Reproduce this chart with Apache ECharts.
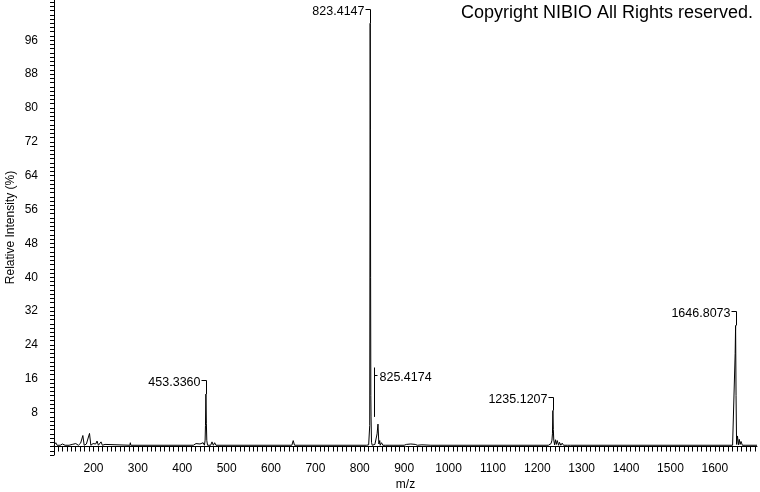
<!DOCTYPE html>
<html><head><meta charset="utf-8">
<script src="https://cdn.jsdelivr.net/npm/echarts@6/dist/echarts.min.js"></script>
<style>html,body{margin:0;padding:0;background:#fff}#c{width:760px;height:492px}</style>
</head><body><div id="c"></div>
<script>
// Spectrum profile (m/z, relative intensity %)
const spectrumMz = [
  111, 115, 118, 121, 125, 130, 136, 140, 145, 152, 156, 160, 163, 166, 171, 176, 179, 184, 187, 191, 194,
  199, 202, 205, 208, 211, 214, 217, 220, 226, 230, 282, 283, 284,
  395, 425, 431, 435, 440, 443, 447, 450, 451.5, 452.3, 453.3, 454.3, 455.3, 457, 461, 464, 467, 470, 473, 476, 480,
  647, 650, 653,
  815, 820, 822.4, 823.4, 823.9, 824.4, 824.9, 825.4, 826.4, 828, 834, 836, 839, 841, 843, 845, 846, 849, 852, 855, 858, 862, 866, 870, 875,
  900, 905, 908, 915, 918, 925, 930, 940, 944, 960,
  1225, 1229, 1231, 1233, 1234.1, 1235.1, 1236.1, 1237.1, 1239, 1241, 1243, 1245, 1248, 1250, 1253, 1256, 1259, 1263, 1268, 1271, 1275,
  1640, 1644, 1645.8, 1646.8, 1647.8, 1649, 1651, 1653, 1655, 1657, 1659, 1662, 1666, 1670, 1695
];
const spectrumInt = [
  0.3, 0.9, 0.3, 0.5, 0.3, 0.6, 0.3, 0.7, 0.3, 0.5, 0.3, 0.7, 1.1, 0.3, 0.8, 2.6, 0.3, 0.6, 0.4, 3.1, 0.3,
  0.7, 0.3, 0.6, 1.3, 0.3, 0.4, 1.1, 0.3, 0.5, 0.3, 0.3, 0.9, 0.3,
  0.3, 0.3, 0.7, 0.3, 0.6, 0.3, 0.9, 0.3, 1.5, 5, 12.4, 5.5, 1.4, 0.3, 0.6, 0.3, 1.1, 0.3, 0.9, 0.3, 0.3,
  0.3, 1.4, 0.3,
  0.3, 0.4, 5, 100, 75, 40, 12, 7, 1, 0.3, 0.5, 0.3, 3, 5.3, 0.6, 1.4, 0.3, 0.9, 0.3, 0.6, 0.3, 0.5, 0.3, 0.4, 0.3,
  0.3, 0.5, 0.3, 0.6, 0.3, 0.5, 0.3, 0.4, 0.3, 0.3,
  0.3, 0.3, 0.7, 1.5, 3, 8.5, 4, 1.5, 0.4, 1.6, 0.5, 1.4, 0.3, 1.0, 0.3, 0.8, 0.3, 0.5, 0.3, 0.4, 0.3,
  0.3, 0.4, 22, 28.6, 12, 0.5, 2.5, 0.4, 1.7, 0.5, 1.2, 0.3, 0.7, 0.3, 0.3
];
// Annotated peaks
const peakLabelMz = [453.3360, 823.4147, 825.4174, 1235.1207, 1646.8073];
const peakLabelInt = [12.4, 100, 7, 8.5, 28.6];
const peakLabelText = ['453.3360', '823.4147', '825.4174', '1235.1207', '1646.8073'];
// Axis labels
const xTickLabels = [200, 300, 400, 500, 600, 700, 800, 900, 1000, 1100, 1200, 1300, 1400, 1500, 1600];
const yTickLabels = [8, 16, 24, 32, 40, 48, 56, 64, 72, 80, 88, 96];

const xMinor = []; for (let v = 120; v <= 1690; v += 10) xMinor.push(v);
const yMinor = []; for (let v = -2; v <= 105; v += 1) yMinor.push(v);

const FONT = '"Liberation Sans", Arial, sans-serif';
const chart = echarts.init(document.getElementById('c'));
chart.setOption({
  animation: false,
  backgroundColor: '#fff',
  grid: { left: 54, right: 3, top: 0, bottom: 37, containLabel: false, outerBoundsMode: 'none' },
  graphic: [{
    type: 'text', right: 7, top: 4,
    style: { text: 'Copyright NIBIO All Rights reserved.', font: '18px ' + FONT, fill: '#000' }
  }],
  xAxis: {
    type: 'value', min: 111, max: 1695,
    name: 'm/z', nameLocation: 'middle', nameGap: 24, nameMoveOverlap: false,
    nameTextStyle: { color: '#000', fontSize: 12, fontFamily: FONT },
    axisLine: { lineStyle: { color: '#000', width: 1 } },
    axisTick: { show: true, inside: false, length: 5, customValues: xMinor, lineStyle: { color: '#000' } },
    axisLabel: { customValues: xTickLabels, formatter: v => String(v), color: '#000', fontSize: 12, fontFamily: FONT, margin: 8 },
    splitLine: { show: false }
  },
  yAxis: {
    type: 'value', min: -2, max: 105.5,
    name: 'Relative Intensity (%)', nameLocation: 'middle', nameGap: 37, nameRotate: 90, nameMoveOverlap: false,
    nameTextStyle: { color: '#000', fontSize: 12, fontFamily: FONT },
    axisLine: { show: true, lineStyle: { color: '#000', width: 1 } },
    axisTick: { show: true, inside: false, length: 4, customValues: yMinor, lineStyle: { color: '#000' } },
    axisLabel: { customValues: yTickLabels, formatter: v => String(v), color: '#000', fontSize: 12, fontFamily: FONT, margin: 16 },
    splitLine: { show: false }
  },
  series: [
    {
      type: 'line', showSymbol: false, symbol: 'none',
      data: spectrumMz.map((m, i) => [m, spectrumInt[i]]),
      lineStyle: { color: '#000', width: 1 },
      z: 2
    },
    {
      type: 'custom', z: 3,
      data: peakLabelMz.map((m, i) => [m, peakLabelInt[i], i]),
      renderItem: function (params, api) {
        const i = api.value(2);
        const mz = api.value(0), it = api.value(1);
        const p = api.coord([mz, it]);
        const crowded = peakLabelMz.some((m, j) => j !== i && Math.abs(m - mz) < 5 && peakLabelInt[j] > it);
        const x = Math.round(p[0]) + 0.5;
        const text = peakLabelText[i];
        const f = '12.5px ' + FONT;
        if (!crowded) {
          const yb = Math.round(p[1] - 14) + 0.5;
          return { type: 'group', children: [
            { type: 'polyline', shape: { points: [[x - 5, yb], [x, yb], [x, p[1]]] }, style: { stroke: '#000', lineWidth: 1, fill: null } },
            { type: 'text', style: { text: text, x: x - 6, y: yb + 2, align: 'right', verticalAlign: 'middle', font: f, fill: '#000' } }
          ] };
        } else {
          const xs = x + 3;
          const yb = Math.round(p[1] - 42) + 0.5;
          return { type: 'group', children: [
            { type: 'polyline', shape: { points: [[xs, p[1]], [xs, yb - 8]] }, style: { stroke: '#000', lineWidth: 1, fill: null } },
            { type: 'polyline', shape: { points: [[xs, yb], [xs + 3, yb]] }, style: { stroke: '#000', lineWidth: 1, fill: null } },
            { type: 'text', style: { text: text, x: xs + 5, y: yb + 2, align: 'left', verticalAlign: 'middle', font: f, fill: '#000' } }
          ] };
        }
      }
    }
  ]
});
</script>
</body></html>
